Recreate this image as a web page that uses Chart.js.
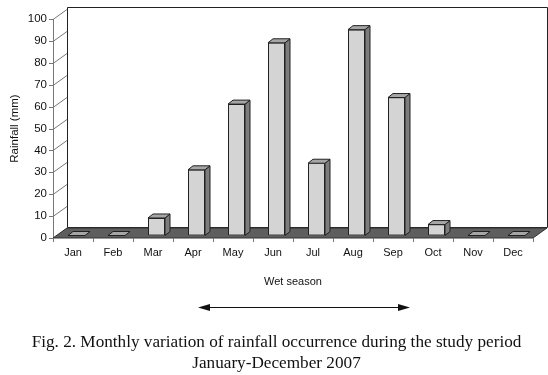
<!DOCTYPE html>
<html>
<head>
<meta charset="utf-8">
<script src="https://cdn.jsdelivr.net/npm/chart.js@4.4.1/dist/chart.umd.min.js"></script>
<style>
    body { margin: 0; background: #fff; }
    #wrap { position: relative; width: 548px; height: 375px; }
    #caption {
        position: absolute; left: 0; top: 331px; width: 553px;
        text-align: center; font-family: 'Liberation Serif', 'Times New Roman', serif;
        font-size: 17.2px; line-height: 21px; color: #111;
    }
</style>
</head>
<body>
<div id="wrap">
    <canvas id="myChart" width="548" height="375"></canvas>
    <div id="caption">Fig. 2. Monthly variation of rainfall occurrence during the study period<br>January-December 2007</div>
</div>
<script>
// Data
var months = ['Jan', 'Feb', 'Mar', 'Apr', 'May', 'Jun', 'Jul', 'Aug', 'Sep', 'Oct', 'Nov', 'Dec'];
var rainfall = [0, 0, 8, 30, 60, 88, 33, 94, 63, 5, 0, 0];
var wetSeason = ['Apr', 'Sep'];

// 3D look: depth of the box and of the bars
var DX = 14, DY = -10;      // floor / back wall depth
var SHIFT_X = 3.5, SHIFT_Y = -2.5; // bar front face position inside the box
var BX = 5, BY = -4;        // bar depth

var box3d = {
    id: 'box3d',
    beforeDatasetsDraw: function (chart) {
        var ctx = chart.ctx;
        var a = chart.chartArea;
        var y = chart.scales.y;
        var top = y.getPixelForValue(100);
        var bottom = y.getPixelForValue(0);

        ctx.save();
        ctx.lineWidth = 1;
        // back wall
        ctx.fillStyle = '#fff';
        ctx.strokeStyle = '#222';
        ctx.beginPath();
        ctx.rect(a.left + DX + 0.5, top + DY - 1.5, a.right - a.left, bottom - top + 1);
        ctx.fill();
        ctx.stroke();

        // left wall lines at each tick
        ctx.strokeStyle = '#777';
        y.ticks.forEach(function (t) {
            var py = Math.round(y.getPixelForValue(t.value)) + 0.5;
            ctx.beginPath();
            ctx.moveTo(a.left - 4, py);
            ctx.lineTo(a.left, py);
            ctx.lineTo(a.left + DX, py + DY);
            ctx.stroke();
        });
        ctx.beginPath();
        ctx.moveTo(a.left + 0.5, top);
        ctx.lineTo(a.left + 0.5, bottom);
        ctx.stroke();

        // floor
        ctx.fillStyle = '#5e5e5e';
        ctx.strokeStyle = '#333';
        ctx.beginPath();
        ctx.moveTo(a.left, bottom);
        ctx.lineTo(a.right, bottom);
        ctx.lineTo(a.right + DX, bottom + DY);
        ctx.lineTo(a.left + DX, bottom + DY);
        ctx.closePath();
        ctx.fill();
        ctx.stroke();

        // x tick marks at category edges
        ctx.strokeStyle = '#777';
        for (var i = 0; i <= months.length; i++) {
            var px = Math.round(a.left + (a.right - a.left) * i / months.length) + 0.5;
            ctx.beginPath();
            ctx.moveTo(px, bottom);
            ctx.lineTo(px, bottom + 4);
            ctx.stroke();
        }
        ctx.restore();

        // move the bar front faces a bit inside the box
        ctx.save();
        ctx.translate(SHIFT_X, SHIFT_Y);
    },
    afterDatasetsDraw: function (chart) {
        var ctx = chart.ctx;
        var bars = chart.getDatasetMeta(0).data;
        ctx.lineWidth = 1;
        ctx.strokeStyle = '#222';
        bars.forEach(function (bar) {
            var p = bar.getProps(['x', 'y', 'base', 'width'], true);
            var l = p.x - p.width / 2, r = p.x + p.width / 2;
            // side face
            if (p.base - p.y > 0.5) {
                ctx.fillStyle = '#7c7c7c';
                ctx.beginPath();
                ctx.moveTo(r, p.y);
                ctx.lineTo(r + BX, p.y + BY);
                ctx.lineTo(r + BX, p.base + BY);
                ctx.lineTo(r, p.base);
                ctx.closePath();
                ctx.fill();
                ctx.stroke();
            }
            // top face
            ctx.fillStyle = '#a6a6a6';
            ctx.beginPath();
            ctx.moveTo(l, p.y);
            ctx.lineTo(r, p.y);
            ctx.lineTo(r + BX, p.y + BY);
            ctx.lineTo(l + BX, p.y + BY);
            ctx.closePath();
            ctx.fill();
            ctx.stroke();
        });
        ctx.restore();
    },
    afterDraw: function (chart) {
        // wet season arrow
        var ctx = chart.ctx;
        var x = chart.scales.x;
        var x1 = x.getPixelForValue(months.indexOf(wetSeason[0])) + 5;
        var x2 = x.getPixelForValue(months.indexOf(wetSeason[1])) + 17;
        var ay = 307;
        ctx.save();
        ctx.strokeStyle = '#111';
        ctx.fillStyle = '#111';
        ctx.lineWidth = 1;
        ctx.beginPath();
        ctx.moveTo(x1 + 8, ay + 0.5);
        ctx.lineTo(x2 - 8, ay + 0.5);
        ctx.stroke();
        ctx.beginPath();
        ctx.moveTo(x1, ay + 0.5);
        ctx.lineTo(x1 + 12, ay - 3);
        ctx.lineTo(x1 + 12, ay + 4);
        ctx.closePath();
        ctx.fill();
        ctx.beginPath();
        ctx.moveTo(x2, ay + 0.5);
        ctx.lineTo(x2 - 12, ay - 3);
        ctx.lineTo(x2 - 12, ay + 4);
        ctx.closePath();
        ctx.fill();
        ctx.restore();
    }
};

var ctx = document.getElementById('myChart').getContext('2d');
var myChart = new Chart(ctx, {
    type: 'bar',
    data: {
        labels: months,
        datasets: [{
            label: 'Rainfall',
            data: rainfall,
            backgroundColor: '#d4d4d4',
            borderColor: '#222',
            borderWidth: 1,
            borderSkipped: false,
            barPercentage: 0.425,
            categoryPercentage: 1
        }]
    },
    options: {
        responsive: false,
        animation: false,
        layout: { padding: { left: 0, right: 15, top: 19, bottom: 0 } },
        scales: {
            y: {
                min: 0,
                max: 100,
                ticks: {
                    stepSize: 10,
                    padding: 6,
                    color: '#111',
                    font: { family: 'Liberation Sans', size: 11.5 }
                },
                grid: { display: false, drawTicks: false },
                border: { display: false },
                title: {
                    display: true,
                    text: 'Rainfall (mm)',
                    color: '#111',
                    padding: { top: 8, bottom: 0 },
                    font: { family: 'Liberation Sans', size: 11.5 }
                },
                afterFit: function (scale) { scale.width = 53; }
            },
            x: {
                ticks: {
                    padding: 8,
                    color: '#111',
                    maxRotation: 0,
                    font: { family: 'Liberation Sans', size: 11 }
                },
                grid: { display: false, drawTicks: false },
                border: { display: false },
                title: {
                    display: true,
                    text: 'Wet season',
                    color: '#111',
                    padding: { top: 0, bottom: 86 },
                    font: { family: 'Liberation Sans', size: 11 }
                },
                afterFit: function (scale) { scale.height = 137; }
            }
        },
        plugins: {
            legend: { display: false },
            tooltip: { enabled: false }
        }
    },
    plugins: [box3d]
});
</script>
</body>
</html>
